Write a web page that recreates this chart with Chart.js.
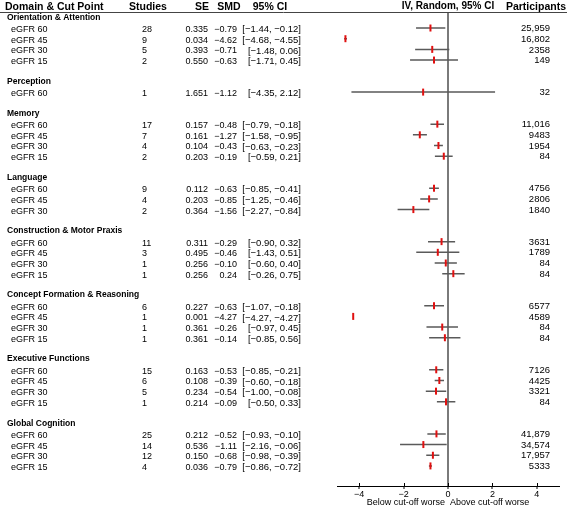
<!DOCTYPE html>
<html>
<head>
<meta charset="utf-8">
<script src="https://cdn.jsdelivr.net/npm/chart.js@4/dist/chart.umd.min.js"></script>
<style>
  html, body { margin: 0; padding: 0; background: #fff; }
</style>
</head>
<body>
<canvas id="forest" width="567" height="507"></canvas>
<script>
const domains = [
    "Orientation & Attention", "Perception", "Memory", "Language",
    "Construction & Motor Praxis", "Concept Formation & Reasoning",
    "Executive Functions", "Global Cognition"
];
const cutPoints = [
    ["eGFR 60", "eGFR 45", "eGFR 30", "eGFR 15"],
    ["eGFR 60"],
    ["eGFR 60", "eGFR 45", "eGFR 30", "eGFR 15"],
    ["eGFR 60", "eGFR 45", "eGFR 30"],
    ["eGFR 60", "eGFR 45", "eGFR 30", "eGFR 15"],
    ["eGFR 60", "eGFR 45", "eGFR 30", "eGFR 15"],
    ["eGFR 60", "eGFR 45", "eGFR 30", "eGFR 15"],
    ["eGFR 60", "eGFR 45", "eGFR 30", "eGFR 15"]
];
const studies = [28, 9, 5, 2, 1, 17, 7, 4, 2, 9, 4, 2, 11, 3, 1, 1, 6, 1, 1, 1, 15, 6, 5, 1, 25, 14, 12, 4];
const se = [0.335, 0.034, 0.393, 0.550, 1.651, 0.157, 0.161, 0.104, 0.203, 0.112, 0.203, 0.364,
    0.311, 0.495, 0.256, 0.256, 0.227, 0.001, 0.361, 0.361, 0.163, 0.108, 0.234, 0.214,
    0.212, 0.536, 0.150, 0.036];
const smd = [-0.79, -4.62, -0.71, -0.63, -1.12, -0.48, -1.27, -0.43, -0.19, -0.63, -0.85, -1.56,
    -0.29, -0.46, -0.10, 0.24, -0.63, -4.27, -0.26, -0.14, -0.53, -0.39, -0.54, -0.09,
    -0.52, -1.11, -0.68, -0.79];
const ciLow = [-1.44, -4.68, -1.48, -1.71, -4.35, -0.79, -1.58, -0.63, -0.59, -0.85, -1.25, -2.27,
    -0.90, -1.43, -0.60, -0.26, -1.07, -4.27, -0.97, -0.85, -0.85, -0.60, -1.00, -0.50,
    -0.93, -2.16, -0.98, -0.86];
const ciHigh = [-0.12, -4.55, 0.06, 0.45, 2.12, -0.18, -0.95, -0.23, 0.21, -0.41, -0.46, -0.84,
    0.32, 0.51, 0.40, 0.75, -0.18, -4.27, 0.45, 0.56, -0.21, -0.18, -0.08, 0.33,
    -0.10, -0.06, -0.39, -0.72];
const participants = [25959, 16802, 2358, 149, 32, 11016, 9483, 1954, 84, 4756, 2806, 1840,
    3631, 1789, 84, 84, 6577, 4589, 84, 84, 7126, 4425, 3321, 84, 41879, 34574, 17957, 5333];
const xTicks = [-4, -2, 0, 2, 4];
const axisTitle = "Below cut-off worse  Above cut-off worse";

const FONT = "'Liberation Sans', Arial, sans-serif";

// row numbers: domain heading, its cut points, then one empty line
const headerRows = [];
const rowIndex = [];
const rowLabels = [];
let r = 1;
domains.forEach((d, i) => {
    headerRows.push(r++);
    cutPoints[i].forEach(c => {
        rowIndex.push(r++);
        rowLabels.push(c);
    });
    r++;
});

function fmt(v, digits) {
    return v.toFixed(digits).replace("-", "\u2212");
}

function fmtN(n) {
    return n >= 10000 ? n.toLocaleString("en-US") : String(n);
}

const ciLines = [];
smd.forEach((v, i) => {
    ciLines.push({ x: ciLow[i], y: rowIndex[i] });
    ciLines.push({ x: ciHigh[i], y: rowIndex[i] });
    ciLines.push({ x: null, y: null });
});

const tablePlugin = {
    id: "table",
    afterDraw(chart) {
        const ctx = chart.ctx;
        const y = chart.scales.y;
        const x = chart.scales.x;
        const area = chart.chartArea;
        ctx.save();
        ctx.fillStyle = "#000";
        ctx.textBaseline = "middle";

        function put(txt, px, py, align) {
            ctx.textAlign = align;
            ctx.fillText(txt, px, py);
        }

        // column headings
        const hy = y.getPixelForValue(0);
        ctx.font = "bold 10.5px " + FONT;
        put("Domain & Cut Point", 5, hy, "left");
        put("Studies", 148, hy, "center");
        put("SE", 202, hy, "center");
        put("SMD", 229, hy, "center");
        put("95% CI", 270, hy, "center");
        put("Participants", 566, hy, "right");
        ctx.font = "bold 10px " + FONT;
        put("IV, Random, 95% CI", (area.left + area.right) / 2, hy, "center");

        ctx.strokeStyle = "#444";
        ctx.lineWidth = 1;
        const ly = Math.round(y.getPixelForValue(0.5)) + 0.5;
        ctx.beginPath();
        ctx.moveTo(0, ly);
        ctx.lineTo(chart.width, ly);
        ctx.stroke();

        // tick marks poke above the axis line too
        ctx.strokeStyle = "#000";
        xTicks.forEach(v => {
            const px = Math.round(x.getPixelForValue(v)) + 0.5;
            ctx.beginPath();
            ctx.moveTo(px, area.bottom - 3);
            ctx.lineTo(px, area.bottom);
            ctx.stroke();
        });

        ctx.font = "bold 8.5px " + FONT;
        domains.forEach((d, i) => put(d, 7, y.getPixelForValue(headerRows[i]), "left"));

        rowLabels.forEach((lab, i) => {
            const yy = y.getPixelForValue(rowIndex[i]) + 1.5;
            ctx.font = "9px " + FONT;
            put(lab, 11, yy, "left");
            put(String(studies[i]), 142, yy, "left");
            put(se[i].toFixed(3), 208, yy, "right");
            put(fmt(smd[i], 2), 237, yy, "right");
            ctx.font = "9.5px " + FONT;
            put("[" + fmt(ciLow[i], 2) + ", " + fmt(ciHigh[i], 2) + "]", 301, yy, "right");
            put(fmtN(participants[i]), 550, yy - 1, "right");
        });
        ctx.restore();
    }
};

new Chart(document.getElementById("forest"), {
    type: "scatter",
    data: {
        datasets: [{
            label: "CI",
            data: ciLines,
            showLine: true,
            spanGaps: false,
            borderColor: "#5a5a5a",
            borderWidth: 1.5,
            pointRadius: 0,
            order: 2
        }, {
            label: "SMD",
            data: smd.map((v, i) => ({ x: v, y: rowIndex[i] })),
            pointStyle: "line",
            rotation: 90,
            pointRadius: 3.5,
            borderWidth: 2,
            borderColor: "#e01010",
            backgroundColor: "#e01010",
            order: 1
        }]
    },
    options: {
        responsive: false,
        animation: false,
        layout: { padding: { left: 337, right: 8, top: 12, bottom: 0 } },
        plugins: {
            legend: { display: false },
            tooltip: { enabled: false }
        },
        scales: {
            x: {
                type: "linear",
                min: -5,
                max: 5,
                afterBuildTicks: s => { s.ticks = xTicks.map(v => ({ value: v })); },
                afterFit: s => { s.height = 21; },
                grid: {
                    color: c => (c.tick && c.tick.value === 0 ? "#7a7a7a" : "rgba(0,0,0,0)"),
                    lineWidth: 2,
                    tickColor: "#000",
                    tickWidth: 1,
                    tickLength: 3
                },
                border: { color: "#000", width: 1 },
                ticks: {
                    color: "#000",
                    padding: 0,
                    maxRotation: 0,
                    font: { family: FONT, size: 9 },
                    callback: v => String(v).replace("-", "\u2212")
                },
                title: {
                    display: true,
                    text: axisTitle,
                    color: "#000",
                    padding: { top: 0, bottom: -1 },
                    font: { family: FONT, size: 9 }
                }
            },
            y: {
                type: "linear",
                display: false,
                reverse: true,
                min: 0.5,
                max: 44.88
            }
        }
    },
    plugins: [tablePlugin]
});
</script>
</body>
</html>
